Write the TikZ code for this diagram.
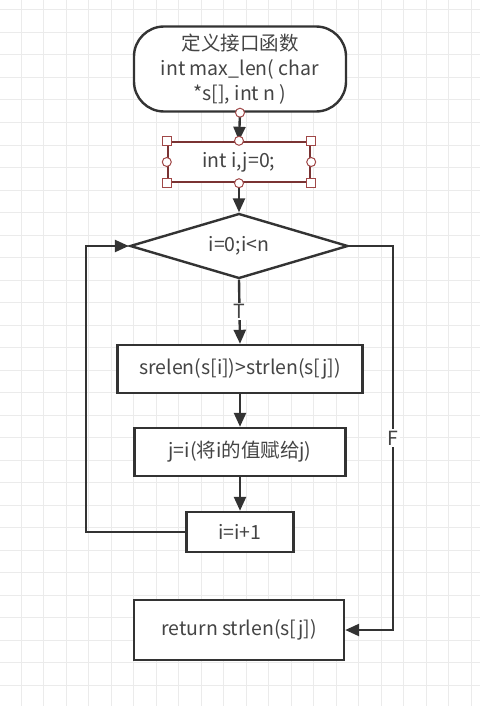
\documentclass[tikz,border=0pt]{standalone}
\usepackage{fontspec}
\setmainfont{Noto Sans CJK SC}
\usetikzlibrary{positioning,shapes.geometric,arrows.meta}
\definecolor{linegray}{HTML}{333333}
\definecolor{textgray}{HTML}{444444}
\definecolor{gridgray}{HTML}{EBEBEB}
\definecolor{selred}{HTML}{7A3333}
\definecolor{handred}{HTML}{A04848}
\tikzset{
  box/.style={draw=linegray, line width=2.4pt, fill=white, text=textgray, inner sep=0pt,
    font=\fontsize{19.5}{25}\selectfont, align=center},
  term/.style={box, rounded corners=30pt},
  decide/.style={box, diamond, aspect=3.35},
  arr/.style={draw=linegray, line width=2.4pt, -{Triangle[length=14pt,width=12pt]}},
  lbl/.style={fill=white, text=textgray, inner sep=1.5pt, font=\fontsize{19.5}{20}\selectfont},
  hsq/.style={draw=handred, fill=white, line width=1pt, minimum size=9pt, inner sep=0pt},
  hcirc/.style={draw=handred, fill=white, line width=1pt, circle, minimum size=9pt, inner sep=0pt}
}
\begin{document}
\begin{tikzpicture}[x=1pt,y=-1pt]
\useasboundingbox (0,0) rectangle (480,706);
\fill[white] (0,0) rectangle (480,706);
\foreach \i in {0,...,21}
  \draw[gridgray, line width=1pt] (21+22.5*\i-22.5,0) -- (21+22.5*\i-22.5,706);
\foreach \i in {0,...,31}
  \draw[gridgray, line width=1pt] (0,10+22.5*\i) -- (480,10+22.5*\i);

\node[term, minimum width=212pt, minimum height=85pt] (start) at (240,69)
  {定义接口函数\\int max\_len( char\\*s[], int n )};
\node[box, draw=selred, minimum width=142pt, minimum height=40pt] (init) at (239,162) {int i,j=0;};
\node[decide, minimum width=218pt, minimum height=65pt] (dec) at (239,246) {i=0;i<n};
\node[box, minimum width=245pt, minimum height=48pt] (cmp) at (240,369) {srelen(s[i])>strlen(s[j])};
\node[box, minimum width=211pt, minimum height=48pt] (asg) at (240,452) {j=i(将i的值赋给j)};
\node[box, minimum width=107pt, minimum height=40pt] (inc) at (240,532) {i=i+1};
\node[box, minimum width=210pt, minimum height=60pt] (ret) at (239,630) {return strlen(s[j])};

\coordinate (loop) at (86,532);
\coordinate (fout) at (393,246);

\draw[arr] (start.south) -- (init.north);
\draw[arr] (init.south) -- (dec.north);
\draw[arr] (dec.south) -- node[lbl] {T} (cmp.north);
\draw[arr] (cmp.south) -- (asg.north);
\draw[arr] (asg.south) -- (inc.north);
\draw[arr] (inc.west) -- (loop) |- (dec.west);
\draw[arr] (dec.east) -- (fout) |- node[lbl, pos=0.25] {F} (ret.east);

\node[hcirc] (hs) at (start.south) {};
\foreach \a/\n in {north west/nw, north east/ne, south west/sw, south east/se}
  \node[hsq] (h\n) at (init.\a) {};
\foreach \a/\n in {north/n, south/s, west/w, east/e}
  \node[hcirc] (c\n) at (init.\a) {};
\end{tikzpicture}
\end{document}
